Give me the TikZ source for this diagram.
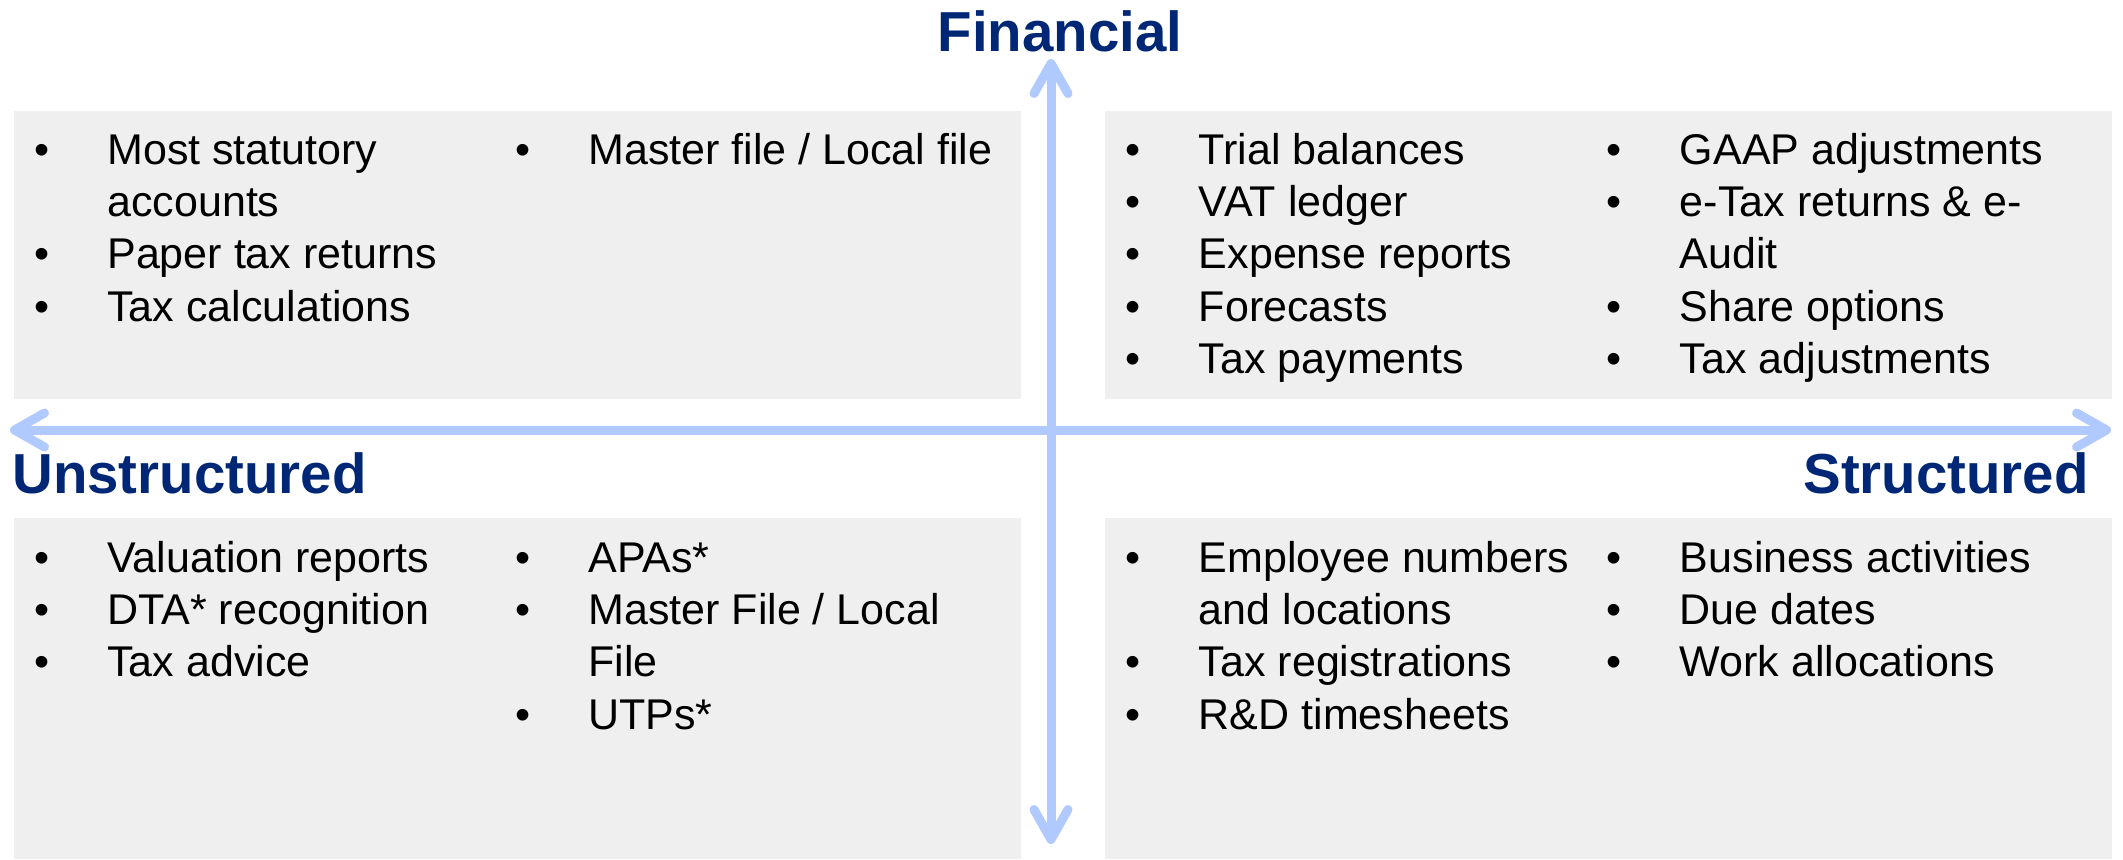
\documentclass[tikz,border=0pt]{standalone}
\usepackage{fontspec}
\setmainfont{Liberation Sans}
\usepackage{tikz}
\usetikzlibrary{arrows.meta,positioning}
\definecolor{axisblue}{HTML}{B0C9FF}
\definecolor{titleblue}{HTML}{002776}
\definecolor{boxgray}{HTML}{EFEFEF}
\tikzstyle{quadrant} = [fill=boxgray, rectangle, inner sep=0pt, anchor=north west, minimum width=503.5pt]
\tikzstyle{axistitle} = [text=titleblue, inner sep=0pt, font=\fontsize{28.2}{33}\selectfont\bfseries]
\tikzstyle{axisline} = [draw=axisblue, line width=4.5pt, line cap=round, >={Straight Barb[length=15pt, width=17pt, line cap=round, line join=round]}, <->]
\tikzstyle{itemcol} = [inner sep=0pt, anchor=base west, font=\fontsize{21.5}{26.2}\selectfont]
\newenvironment{quaditems}{\begin{list}{\makebox[0pt]{\textbullet}}{%
  \setlength{\leftmargin}{46.75pt}\setlength{\labelwidth}{0pt}%
  \setlength{\labelsep}{32.75pt}\setlength{\itemsep}{0pt}%
  \setlength{\parsep}{0pt}\setlength{\topsep}{0pt}\setlength{\partopsep}{0pt}}}%
  {\end{list}}

\begin{document}
\begin{tikzpicture}[x=0.5pt, y=-0.5pt]
	\useasboundingbox (0,0) rectangle (2123,859);
	% the four quadrants
	\node[quadrant, minimum height=144pt] (finunstr) at (13.5,111) {};
	\node[quadrant, minimum height=144pt] (finstr) at (1105,111) {};
	\node[quadrant, minimum height=170.5pt] (opsunstr) at (13.5,518) {};
	\node[quadrant, minimum height=170.5pt] (opsstr) at (1105,518) {};
	% axes
	\coordinate (ytop) at (1051,59);
	\coordinate (ybot) at (1051,844);
	\coordinate (xleft) at (10,430);
	\coordinate (xright) at (2111,430);
	\draw[axisline] (xleft) -- (xright);
	\draw[axisline] (ytop) -- (ybot);
	\node[axistitle, anchor=base] (fin) at (1060,51) {Financial};
	\node[axistitle, anchor=base west] (unstr) at (12,493) {Unstructured};
	\node[axistitle, anchor=base east] (str) at (2089,493) {Structured};
	% lists
	\node[itemcol] (finunstra) at ([shift={(0pt,-26.5pt)}]finunstr.north west) {%
		\begin{minipage}[t]{240pt}\raggedright
			\begin{quaditems}
				\item Most statutory\\ accounts
				\item Paper tax returns
				\item Tax calculations
			\end{quaditems}
		\end{minipage}};
	\node[itemcol] (finunstrb) at ([shift={(240.5pt,-26.5pt)}]finunstr.north west) {%
		\begin{minipage}[t]{260pt}\raggedright
			\begin{quaditems}
				\item Master file / Local file
			\end{quaditems}
		\end{minipage}};
	\node[itemcol] (finstra) at ([shift={(0pt,-26.5pt)}]finstr.north west) {%
		\begin{minipage}[t]{240pt}\raggedright
			\begin{quaditems}
				\item Trial balances
				\item VAT ledger
				\item Expense reports
				\item Forecasts
				\item Tax payments
			\end{quaditems}
		\end{minipage}};
	\node[itemcol] (finstrb) at ([shift={(240.5pt,-26.5pt)}]finstr.north west) {%
		\begin{minipage}[t]{260pt}\raggedright
			\begin{quaditems}
				\item GAAP adjustments
				\item e-Tax returns \& e-\\ Audit
				\item Share options
				\item Tax adjustments
			\end{quaditems}
		\end{minipage}};
	\node[itemcol] (opsunstra) at ([shift={(0pt,-27pt)}]opsunstr.north west) {%
		\begin{minipage}[t]{240pt}\raggedright
			\begin{quaditems}
				\item Valuation reports
				\item DTA* recognition
				\item Tax advice
			\end{quaditems}
		\end{minipage}};
	\node[itemcol] (opsunstrb) at ([shift={(240.5pt,-27pt)}]opsunstr.north west) {%
		\begin{minipage}[t]{260pt}\raggedright
			\begin{quaditems}
				\item APAs*
				\item Master File / Local\\ File
				\item UTPs*
			\end{quaditems}
		\end{minipage}};
	\node[itemcol] (opsstra) at ([shift={(0pt,-27pt)}]opsstr.north west) {%
		\begin{minipage}[t]{240pt}\raggedright
			\begin{quaditems}
				\item Employee numbers\\ and locations
				\item Tax registrations
				\item R\&D timesheets
			\end{quaditems}
		\end{minipage}};
	\node[itemcol] (opsstrb) at ([shift={(240.5pt,-27pt)}]opsstr.north west) {%
		\begin{minipage}[t]{260pt}\raggedright
			\begin{quaditems}
				\item Business activities
				\item Due dates
				\item Work allocations
			\end{quaditems}
		\end{minipage}};
\end{tikzpicture}
\end{document}
